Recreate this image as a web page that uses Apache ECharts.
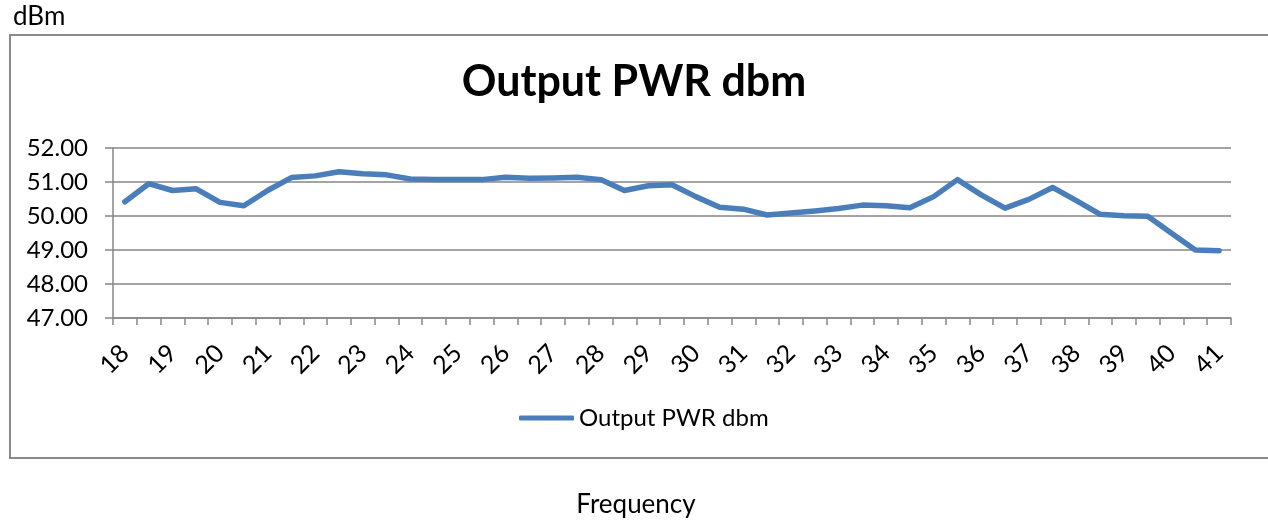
<!DOCTYPE html>
<html>
<head>
<meta charset="utf-8">
<script src="https://cdn.jsdelivr.net/npm/echarts@6/dist/echarts.min.js"></script>
<style>
  html, body { margin: 0; padding: 0; background: #fff; }
  #main { width: 1268px; height: 520px; }
</style>
</head>
<body>
<div id="main"></div>
<script>
// frequency steps (GHz), every other one gets a label
var freqs = ['18','18.5','19','19.5','20','20.5','21','21.5','22','22.5','23','23.5',
  '24','24.5','25','25.5','26','26.5','27','27.5','28','28.5','29','29.5',
  '30','30.5','31','31.5','32','32.5','33','33.5','34','34.5','35','35.5',
  '36','36.5','37','37.5','38','38.5','39','39.5','40','40.5','41'];

var outputPwr = [50.42, 50.95, 50.75, 50.80, 50.40, 50.30, 50.75, 51.13, 51.18, 51.30, 51.24, 51.21,
  51.09, 51.07, 51.07, 51.07, 51.14, 51.11, 51.12, 51.14, 51.07, 50.75, 50.89, 50.92,
  50.57, 50.26, 50.20, 50.03, 50.09, 50.15, 50.22, 50.32, 50.30, 50.24, 50.57, 51.07,
  50.62, 50.23, 50.49, 50.84, 50.45, 50.05, 50.01, 49.99, 49.49, 49.00, 48.98];

var seriesName = 'Output PWR dbm';
var font = 'Lato';
var blue = '#4a7ebb';

var chart = echarts.init(document.getElementById('main'));

var option = {
  backgroundColor: '#fff',
  animation: false,
  textStyle: { fontFamily: font, color: '#000' },
  title: {
    text: seriesName,
    left: 'center',
    top: 56,
    textStyle: { fontFamily: font, fontSize: 43, fontWeight: 'bold', color: '#000' }
  },
  legend: {
    data: [{ name: seriesName, icon: 'roundRect' }],
    left: 514,
    top: 401,
    itemWidth: 55,
    itemHeight: 5,
    itemStyle: { color: blue, borderWidth: 0 },
    textStyle: { fontFamily: font, fontSize: 24, color: '#000' }
  },
  grid: { left: 113, right: 37, top: 148, bottom: 202, outerBoundsMode: 'none' },
  xAxis: {
    type: 'category',
    data: freqs,
    boundaryGap: true,
    axisLine: { lineStyle: { color: '#868686', width: 1.5 } },
    axisTick: { show: true, interval: 0, length: 7, lineStyle: { color: '#868686', width: 1.5 } },
    axisLabel: { interval: 1, rotate: 45, margin: 31, fontSize: 25, color: '#000', fontFamily: font }
  },
  yAxis: {
    type: 'value',
    min: 47,
    max: 52,
    interval: 1,
    axisLine: { show: true, lineStyle: { color: '#868686', width: 1.5 } },
    axisTick: { show: true, length: 8, lineStyle: { color: '#868686', width: 1.5 } },
    axisLabel: {
      margin: 25, fontSize: 24, color: '#000', fontFamily: font,
      formatter: function (v) { return v.toFixed(2); }
    },
    splitLine: { lineStyle: { color: '#868686', width: 1.5 } }
  },
  series: [{
    name: seriesName,
    type: 'line',
    data: outputPwr,
    symbol: 'none',
    color: blue,
    lineStyle: { color: blue, width: 5.5, cap: 'round', join: 'round' }
  }],
  graphic: [
    {
      type: 'rect',
      shape: { x: 10, y: 35, width: 1300, height: 423 },
      style: { fill: 'none', stroke: '#8a8a8a', lineWidth: 2 },
      z: -1
    },
    {
      type: 'text',
      left: 13,
      top: 4,
      style: { text: 'dBm', fontFamily: font, fontSize: 26, fill: '#000' }
    },
    {
      type: 'text',
      x: 636,
      y: 505,
      style: { text: 'Frequency', fontFamily: font, fontSize: 26, fill: '#000', align: 'center', verticalAlign: 'middle' }
    }
  ]
};

chart.setOption(option);
</script>
</body>
</html>
